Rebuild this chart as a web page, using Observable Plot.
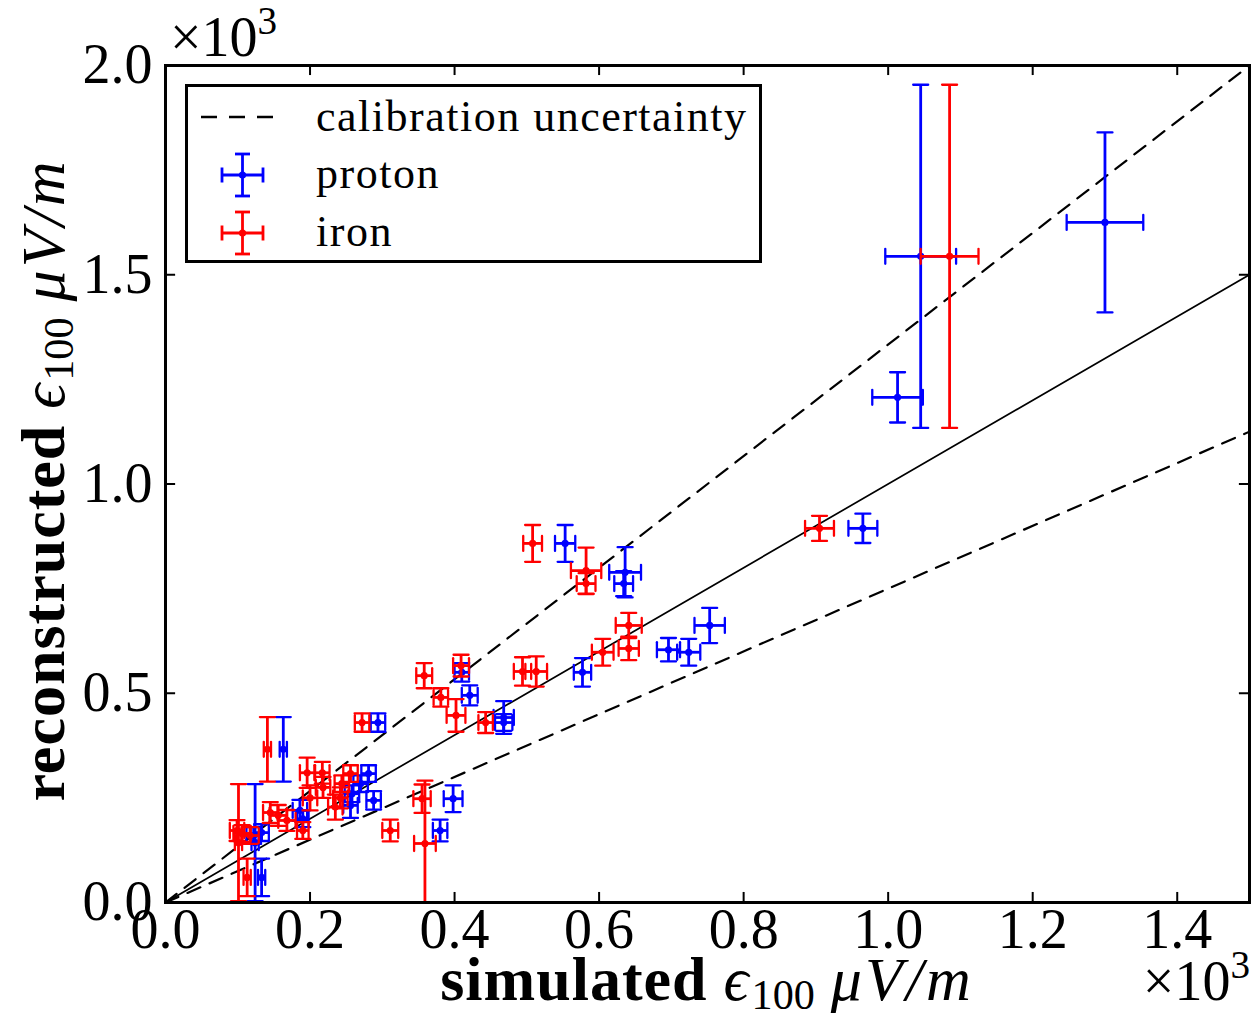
<!DOCTYPE html>
<html>
<head>
<meta charset="utf-8">
<script src="https://cdn.jsdelivr.net/npm/d3@7"></script>
<script src="https://cdn.jsdelivr.net/npm/@observablehq/plot@0.6"></script>
<style>
html, body { margin: 0; padding: 0; background: #fff; }
#wrap { position: relative; width: 1254px; height: 1017px; overflow: hidden; background: #fff; }
#wrap > svg { position: absolute; left: 0; top: 0; }
</style>
</head>
<body>
<div id="wrap"></div>
<script>
// ---- tick values (units of 10^3) ----
const xTicks = [0.0, 0.2, 0.4, 0.6, 0.8, 1.0, 1.2, 1.4];
const yTicks = [0.0, 0.5, 1.0, 1.5, 2.0];

// ---- proton (blue) : simulated, reconstructed, errors ----
const protonX    = [1.300, 1.045, 1.013, 0.965, 0.753, 0.724, 0.696, 0.636, 0.634, 0.577, 0.553, 0.468, 0.468, 0.421, 0.410, 0.398, 0.380, 0.294, 0.288, 0.281, 0.270, 0.258, 0.256, 0.186, 0.190, 0.163, 0.133, 0.122, 0.124, 0.133];
const protonY    = [1.625, 1.544, 1.207, 0.894, 0.662, 0.598, 0.604, 0.789, 0.762, 0.550, 0.858, 0.442, 0.430, 0.495, 0.550, 0.248, 0.172, 0.430, 0.244, 0.308, 0.284, 0.260, 0.232, 0.220, 0.200, 0.366, 0.167, 0.160, 0.143, 0.060];
const protonXErr = [0.053, 0.049, 0.035, 0.020, 0.021, 0.016, 0.016, 0.022, 0.013, 0.012, 0.014, 0.014, 0.012, 0.011, 0.010, 0.013, 0.010, 0.010, 0.010, 0.010, 0.010, 0.010, 0.010, 0.010, 0.008, 0.005, 0.010, 0.010, 0.005, 0.005];
const protonYErr = [0.215, 0.410, 0.060, 0.035, 0.042, 0.032, 0.028, 0.060, 0.030, 0.034, 0.044, 0.039, 0.020, 0.024, 0.022, 0.032, 0.026, 0.022, 0.022, 0.020, 0.020, 0.020, 0.030, 0.025, 0.020, 0.077, 0.020, 0.020, 0.140, 0.045];

// ---- iron (red) ----
const ironX    = [1.085, 0.905, 0.641, 0.641, 0.605, 0.582, 0.582, 0.508, 0.513, 0.494, 0.443, 0.402, 0.409, 0.381, 0.358, 0.355, 0.359, 0.311, 0.272, 0.256, 0.244, 0.242, 0.235, 0.217, 0.218, 0.196, 0.190, 0.168, 0.156, 0.145, 0.141, 0.117, 0.106, 0.099, 0.101, 0.113, 0.200];
const ironY    = [1.544, 0.894, 0.662, 0.607, 0.598, 0.793, 0.762, 0.858, 0.552, 0.552, 0.430, 0.447, 0.566, 0.490, 0.542, 0.248, 0.141, 0.172, 0.430, 0.308, 0.284, 0.250, 0.228, 0.310, 0.275, 0.310, 0.172, 0.196, 0.208, 0.215, 0.366, 0.160, 0.165, 0.172, 0.143, 0.060, 0.250];
const ironXErr = [0.040, 0.020, 0.018, 0.014, 0.015, 0.021, 0.013, 0.013, 0.015, 0.012, 0.010, 0.013, 0.011, 0.010, 0.011, 0.012, 0.015, 0.011, 0.010, 0.010, 0.010, 0.010, 0.010, 0.010, 0.010, 0.010, 0.008, 0.012, 0.012, 0.010, 0.005, 0.012, 0.012, 0.010, 0.005, 0.005, 0.010];
const ironYErr = [0.410, 0.030, 0.030, 0.028, 0.032, 0.055, 0.025, 0.044, 0.036, 0.034, 0.025, 0.039, 0.026, 0.022, 0.030, 0.034, 0.150, 0.026, 0.022, 0.020, 0.020, 0.025, 0.030, 0.026, 0.025, 0.036, 0.020, 0.025, 0.025, 0.025, 0.077, 0.020, 0.020, 0.025, 0.140, 0.045, 0.030];

// ---- reference lines ----
const lineX = [0, 1.5];
const identitySlope = 1.0;
const calibSlopes = [4 / 3, 0.75];

const BLUE = "#0000ff", RED = "#ff0000";
const SERIF = '"Liberation Serif", "DejaVu Serif", serif';

const toRows = (X, Y, XE, YE) => X.map((x, i) => ({x, y: Y[i], xe: XE[i], ye: YE[i]}));
const proton = toRows(protonX, protonY, protonXErr, protonYErr);
const iron = toRows(ironX, ironY, ironXErr, ironYErr);

const identity = lineX.map(x => ({x, y: identitySlope * x}));
const calib = calibSlopes.flatMap((s, k) => lineX.map(x => ({x, y: s * x, k})));

const capShape = { draw(ctx, l) { ctx.moveTo(0, 0); ctx.lineTo(0, -l); } };

function errorbars(rows, color) {
  const sw = 2.8, cap = 15, csw = 2.3;
  return [
    Plot.ruleY(rows, {y: "y", x1: d => d.x - d.xe, x2: d => d.x + d.xe, stroke: color, strokeWidth: sw, clip: true}),
    Plot.ruleX(rows, {x: "x", y1: d => d.y - d.ye, y2: d => d.y + d.ye, stroke: color, strokeWidth: sw, clip: true}),
    Plot.vector(rows, {x: "x", y: d => d.y + d.ye, length: cap, rotate: 90, anchor: "middle", shape: capShape, stroke: color, strokeWidth: csw, clip: true}),
    Plot.vector(rows, {x: "x", y: d => d.y - d.ye, length: cap, rotate: 90, anchor: "middle", shape: capShape, stroke: color, strokeWidth: csw, clip: true}),
    Plot.vector(rows, {x: d => d.x - d.xe, y: "y", length: cap, rotate: 0, anchor: "middle", shape: capShape, stroke: color, strokeWidth: csw, clip: true}),
    Plot.vector(rows, {x: d => d.x + d.xe, y: "y", length: cap, rotate: 0, anchor: "middle", shape: capShape, stroke: color, strokeWidth: csw, clip: true}),
    Plot.dot(rows, {x: "x", y: "y", r: 3.6, fill: color, stroke: "none", clip: true})
  ];
}

const tickLenY = 0.024;   // ~10px inward on x ticks
const tickLenX = 0.014;   // ~10px inward on y ticks
const fmt = d3.format(".1f");

const chart = Plot.plot({
  width: 1254,
  height: 1017,
  marginLeft: 165,
  marginRight: 5,
  marginTop: 65,
  marginBottom: 115,
  x: {domain: [0, 1.5]},
  y: {domain: [0, 2]},
  style: {fontFamily: SERIF, fontSize: "56px", background: "white", color: "black", overflow: "visible"},
  marks: [
    Plot.line(identity, {x: "x", y: "y", stroke: "black", strokeWidth: 1.7, clip: true}),
    Plot.line(calib, {x: "x", y: "y", z: "k", stroke: "black", strokeWidth: 2.2, strokeDasharray: "14,10", clip: true}),
    ...errorbars(proton, BLUE),
    ...errorbars(iron, RED),
    Plot.ruleX(xTicks, {x: d => d, y1: 0, y2: tickLenY, stroke: "black", strokeWidth: 2}),
    Plot.ruleX(xTicks, {x: d => d, y1: 2, y2: 2 - tickLenY, stroke: "black", strokeWidth: 2}),
    Plot.ruleY(yTicks, {y: d => d, x1: 0, x2: tickLenX, stroke: "black", strokeWidth: 2}),
    Plot.ruleY(yTicks, {y: d => d, x1: 1.5, x2: 1.5 - tickLenX, stroke: "black", strokeWidth: 2}),
    Plot.frame({stroke: "black", strokeWidth: 3}),
    Plot.axisX({ticks: xTicks, tickSize: 0, tickPadding: 6, tickFormat: fmt, label: null, fontSize: 56, fontFamily: SERIF, fill: "black"}),
    Plot.axisY({ticks: yTicks, tickSize: 0, tickPadding: 13, tickFormat: fmt, label: null, fontSize: 56, fontFamily: SERIF, fill: "black"})
  ]
});

const wrap = document.getElementById("wrap");
wrap.appendChild(chart);

// ---- overlay: axis labels, multipliers, legend ----
const NS = "http://www.w3.org/2000/svg";
const ov = d3.select(wrap).append("svg")
  .attr("xmlns", NS)
  .attr("width", 1254).attr("height", 1017)
  .style("pointer-events", "none")
  .style("font-family", SERIF);

function mathLabel(sel, word) {
  sel.append("tspan").attr("font-weight", "bold").attr("letter-spacing", 1).text(word);
  sel.append("tspan").attr("font-style", "italic").attr("dx", 16).text("ϵ");
  sel.append("tspan").attr("font-size", "0.68em").attr("dy", 9).attr("dx", 3).text("100");
  sel.append("tspan").attr("font-style", "italic").attr("letter-spacing", 3).attr("dy", -9).attr("dx", 16).text("μV/m");
}

// x label
const xl = ov.append("text").attr("x", 707).attr("y", 1000).attr("text-anchor", "middle").attr("font-size", 62);
mathLabel(xl, "simulated");

// y label
const yl = ov.append("text").attr("transform", "translate(64,480) rotate(-90)").attr("text-anchor", "middle").attr("font-size", 62);
mathLabel(yl, "reconstructed");

// multipliers ×10^3
function mult(x, y, anchor) {
  const t = ov.append("text").attr("x", x).attr("y", y).attr("text-anchor", anchor).attr("font-size", 56);
  t.append("tspan").text("×10");
  t.append("tspan").attr("font-size", "0.7em").attr("dy", -22).text("3");
}
mult(170, 56, "start");
mult(1250, 1000, "end");

// legend
const lg = ov.append("g").attr("transform", "translate(185,84)");
lg.append("rect").attr("x", 1.5).attr("y", 1.5).attr("width", 574).attr("height", 176)
  .attr("fill", "white").attr("stroke", "black").attr("stroke-width", 3);
lg.append("line").attr("x1", 16).attr("x2", 88).attr("y1", 33).attr("y2", 33)
  .attr("stroke", "black").attr("stroke-width", 2.5).attr("stroke-dasharray", "16,12");
function legIcon(cy, color) {
  const g = lg.append("g").attr("stroke", color).attr("stroke-width", 2.8);
  g.append("line").attr("x1", 37).attr("x2", 78).attr("y1", cy).attr("y2", cy);
  g.append("line").attr("x1", 57.5).attr("x2", 57.5).attr("y1", cy - 21).attr("y2", cy + 21);
  g.append("line").attr("x1", 50).attr("x2", 65).attr("y1", cy - 21).attr("y2", cy - 21);
  g.append("line").attr("x1", 50).attr("x2", 65).attr("y1", cy + 21).attr("y2", cy + 21);
  g.append("line").attr("x1", 37).attr("x2", 37).attr("y1", cy - 7.5).attr("y2", cy + 7.5);
  g.append("line").attr("x1", 78).attr("x2", 78).attr("y1", cy - 7.5).attr("y2", cy + 7.5);
  lg.append("circle").attr("cx", 57.5).attr("cy", cy).attr("r", 3.6).attr("fill", color);
}
legIcon(91, BLUE);
legIcon(149, RED);
const legText = [["calibration uncertainty", 47], ["proton", 104], ["iron", 162]];
legText.forEach(([t, y]) => lg.append("text").attr("x", 131).attr("y", y).attr("font-size", 44)
  .attr("letter-spacing", 1.5).attr("fill", "black").text(t));
</script>
</body>
</html>
